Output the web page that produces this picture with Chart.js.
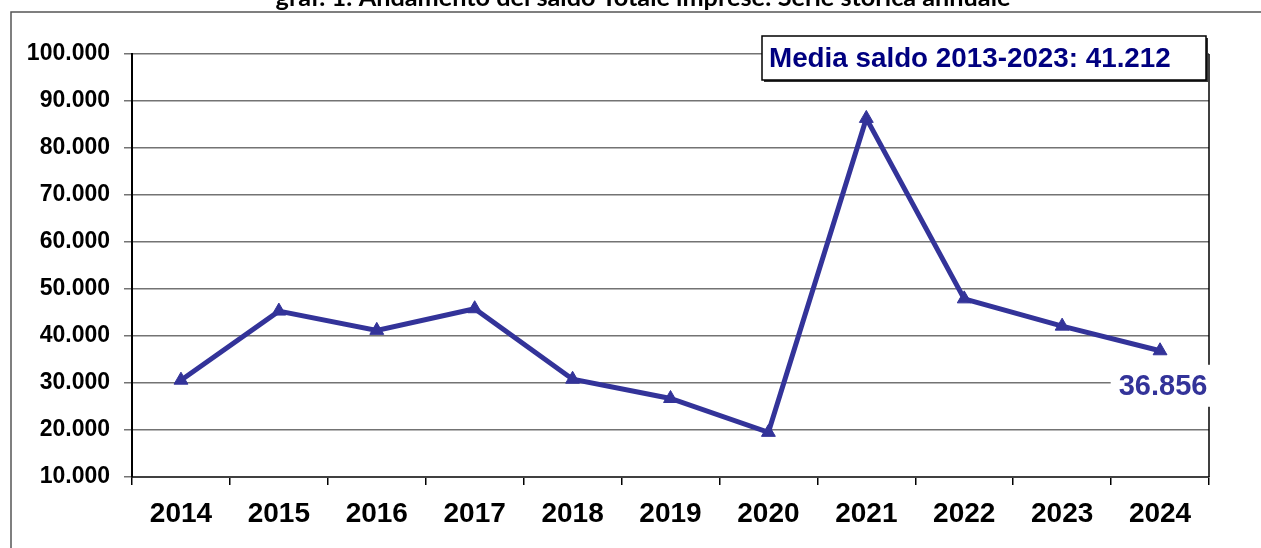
<!DOCTYPE html>
<html>
<head>
<meta charset="utf-8">
<script src="https://cdn.jsdelivr.net/npm/chart.js@4/dist/chart.umd.min.js"></script>
<style>
  html, body { margin: 0; padding: 0; background: #ffffff; }
  #wrap { width: 1261px; height: 548px; position: relative; }
</style>
</head>
<body>
<div id="wrap"><canvas id="c" width="1261" height="548"></canvas></div>
<script>
// ---- data ----
const years = ['2014', '2015', '2016', '2017', '2018', '2019', '2020', '2021', '2022', '2023', '2024'];
const saldo = [30600, 45300, 41200, 45800, 30800, 26700, 19500, 86300, 47900, 42100, 36856];
const yMin = 10000;
const yMax = 100000;
const yStep = 10000;
const titleText = 'graf. 1: Andamento del saldo Totale imprese: Serie storica annuale';
const mediaText = 'Media saldo 2013-2023: 41.212';

function fmt(v) {
  return String(Math.round(v)).replace(/\B(?=(\d{3})+(?!\d))/g, '.');
}

const decor = {
  id: 'decor',
  beforeDraw(chart) {
    const ctx = chart.ctx;
    ctx.save();
    ctx.fillStyle = '#ffffff';
    ctx.fillRect(0, 0, chart.width, chart.height);
    // outer frame (top + left)
    ctx.strokeStyle = '#555555';
    ctx.lineWidth = 1.5;
    ctx.beginPath();
    ctx.moveTo(11, 548);
    ctx.lineTo(11, 12);
    ctx.lineTo(1261, 12);
    ctx.stroke();
    // title (cut off at top)
    ctx.fillStyle = '#000000';
    ctx.font = 'bold 22px Lato';
    ctx.textAlign = 'center';
    ctx.textBaseline = 'alphabetic';
    const w = ctx.measureText(titleText).width;
    const size = 22 * 735 / w;
    ctx.font = 'bold ' + size.toFixed(2) + 'px Lato';
    ctx.fillText(titleText, 643, 6);
    ctx.restore();
  },
  beforeDatasetsDraw(chart) {
    const ctx = chart.ctx;
    const a = chart.chartArea;
    ctx.save();
    ctx.strokeStyle = '#000000';
    ctx.lineWidth = 1.5;
    ctx.beginPath();
    ctx.moveTo(a.right, a.top);
    ctx.lineTo(a.right, a.bottom);
    ctx.stroke();
    ctx.restore();
  },
  afterDatasetsDraw(chart) {
    const ctx = chart.ctx;
    const xs = chart.scales.x;
    const ys = chart.scales.y;
    ctx.save();
    // media box
    const bx = 762, by = 36, bw = 444, bh = 44;
    ctx.fillStyle = '#333333';
    ctx.fillRect(bx + 2, by + 2, bw, bh);
    ctx.fillStyle = '#ffffff';
    ctx.fillRect(bx, by, bw, bh);
    ctx.strokeStyle = '#000000';
    ctx.lineWidth = 1.5;
    ctx.strokeRect(bx, by, bw, bh);
    ctx.fillStyle = '#000080';
    ctx.font = 'bold 27.8px "Liberation Sans", Arial, sans-serif';
    ctx.textAlign = 'left';
    ctx.textBaseline = 'middle';
    ctx.fillText(mediaText, 769, by + bh / 2 + 1);
    // last value label
    const last = saldo.length - 1;
    const px = xs.getPixelForValue(last);
    const py = ys.getPixelForValue(saldo[last]);
    const lx = px + 3, ly = py + 35;
    ctx.font = 'bold 29px "Liberation Sans", Arial, sans-serif';
    const lw = ctx.measureText(fmt(saldo[last])).width;
    ctx.fillStyle = '#ffffff';
    ctx.fillRect(lx - lw / 2 - 8, ly - 21, lw + 16, 42);
    ctx.fillStyle = '#333399';
    ctx.textAlign = 'center';
    ctx.fillText(fmt(saldo[last]), lx, ly + 1);
    ctx.restore();
  }
};

new Chart(document.getElementById('c'), {
  type: 'line',
  data: {
    labels: years,
    datasets: [{
      data: saldo,
      borderColor: '#333399',
      backgroundColor: '#333399',
      borderWidth: 5,
      pointStyle: 'triangle',
      pointRadius: 8,
      pointHoverRadius: 8,
      pointBorderWidth: 1,
      tension: 0,
      fill: false
    }]
  },
  options: {
    responsive: false,
    animation: false,
    events: [],
    layout: { padding: { top: 54, right: 52, bottom: 0, left: 0 } },
    plugins: { legend: { display: false }, title: { display: false }, tooltip: { enabled: false } },
    scales: {
      x: {
        type: 'category',
        offset: true,
        afterFit(scale) { scale.height = 71; },
        grid: {
          offset: true,
          drawOnChartArea: false,
          drawTicks: true,
          tickLength: 8,
          color: '#000000',
          lineWidth: 1.5
        },
        border: { display: true, color: '#404040', width: 2 },
        ticks: {
          color: '#000000',
          padding: 12,
          maxRotation: 0,
          autoSkip: false,
          font: { family: '"Liberation Sans", Arial, sans-serif', size: 28, weight: 'bold' }
        }
      },
      y: {
        min: yMin,
        max: yMax,
        afterFit(scale) { scale.width = 132; },
        grid: {
          color: '#737373',
          lineWidth: 1.5,
          drawTicks: true,
          tickLength: 8
        },
        border: { display: true, color: '#000000', width: 2 },
        ticks: {
          stepSize: yStep,
          color: '#000000',
          padding: 14,
          callback: (v) => fmt(v),
          font: { family: '"Liberation Sans", Arial, sans-serif', size: 23, weight: 'bold' }
        }
      }
    }
  },
  plugins: [decor]
});
</script>
</body>
</html>
